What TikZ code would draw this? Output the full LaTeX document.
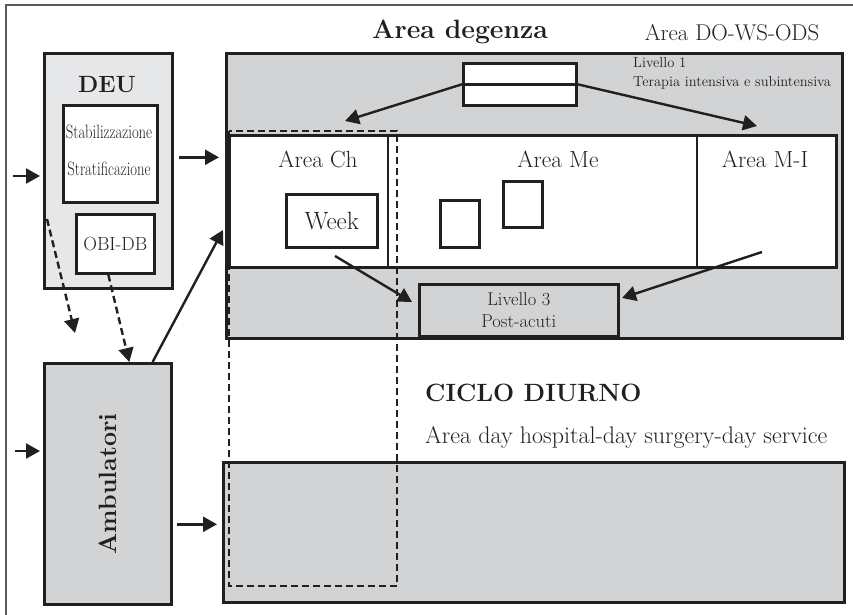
\documentclass[tikz,border=0pt]{standalone}
\usetikzlibrary{arrows.meta}
\definecolor{grigio}{HTML}{D1D3D4}
\definecolor{grigiochiaro}{HTML}{E6E7E8}
\definecolor{nero}{HTML}{231F20}
\tikzset{
	box/.style={draw=nero, line width=2.6pt, inner sep=0pt, anchor=north west, text=nero},
	testo/.style={text=nero, inner sep=0pt},
	freccia/.style={draw=nero, line width=2.4pt, -{Triangle[length=14pt, width=15pt]}},
	tratteggio/.style={draw=nero, line width=2.4pt, dash pattern=on 7pt off 4pt},
}
\newcommand{\fsize}[2]{\fontsize{#1}{#2}\selectfont}
\newcommand{\stretta}[1]{\scalebox{0.76}[1]{#1}}

\begin{document}
\begin{tikzpicture}[x=1pt, y=-1pt]
	\useasboundingbox (0,0) rectangle (853,615);
	\draw[gray!70!black, line width=1.2pt] (6,620) -- (6,5) -- (860,5);

	\node[box, fill=grigiochiaro, minimum width=128, minimum height=235] (deu) at (43,52) {};
	\node[box, fill=white, minimum width=94, minimum height=97] (stab) at (62,104) {};
	\node[box, fill=white, minimum width=78, minimum height=59, font=\fsize{19}{23}] (obi) at (75,213) {OBI-DB};
	\node[testo, font=\bfseries\fsize{23.5}{28}] (deutit) at (107,85) {DEU};
	\node[testo, font=\fsize{19.3}{23}] (stab1) at (109,132) {\stretta{Stabilizzazione}};
	\node[testo, font=\fsize{19.3}{23}] (stab2) at (109,169) {\stretta{Stratificazione}};

	\node[box, fill=grigio, minimum width=127, minimum height=241] (amb) at (43,362) {};
	\node[testo, rotate=90, font=\bfseries\fsize{25}{30}] (ambtit) at (amb.center) {Ambulatori};

	\node[box, fill=grigio, minimum width=616, minimum height=285] (deg) at (225,52) {};
	\node[box, fill=white, minimum width=607, minimum height=132] (band) at (228,134) {};
	\draw[nero, line width=2.6pt] (388,134) -- (388,266);
	\draw[nero, line width=2.6pt] (697,134) -- (697,266);
	\node[box, fill=white, minimum width=113, minimum height=42] (liv1) at (462,62) {};
	\node[box, fill=grigio, minimum width=199, minimum height=52] (liv3) at (418,283) {};
	\node[testo, align=center, font=\fsize{18.5}{22}] (liv3txt) at (liv3.center) {Livello 3\\Post-acuti};
	\node[box, fill=white, minimum width=91, minimum height=53, font=\fsize{25}{30}] (week) at (285,193) {Week};
	\node[box, minimum width=39, minimum height=47] (q1) at (439,199) {};
	\node[box, minimum width=39, minimum height=46] (q2) at (502,180) {};

	\node[box, fill=grigio, minimum width=621, minimum height=140] (giorno) at (222,461) {};

	\node[testo, font=\bfseries\fsize{26.5}{31}] (degtit) at (460,32) {Area degenza};
	\node[testo, font=\fsize{22.8}{27}] (dows) at (732,33) {Area DO-WS-ODS};
	\node[testo, anchor=west, align=left, font=\fsize{14.5}{19}] (liv1txt) at (633,73) {Livello 1\\Terapia intensiva e subintensiva};
	\node[testo, font=\fsize{23.4}{28}] (ach) at (318,159) {Area Ch};
	\node[testo, font=\fsize{23.4}{28}] (ame) at (558,159) {Area Me};
	\node[testo, font=\fsize{23.4}{28}] (ami) at (765,159) {Area M-I};
	\node[testo, anchor=west, font=\bfseries\fsize{25}{30}] (ciclo) at (425,393) {CICLO DIURNO};
	\node[testo, anchor=west, font=\fsize{24}{29}] (dayh) at (425,437) {Area day hospital-day surgery-day service};

	\coordinate (ing1) at (13,176);
	\coordinate (ing2) at (15,451);
	\coordinate (p1) at ([yshift=13.5pt]deu.east);
	\coordinate (p2) at ([yshift=-40.5pt]amb.east);
	\coordinate (ingch) at (223,230);
	\coordinate (sx) at (345,121);
	\coordinate (dx) at (757,126);
	\coordinate (c1) at (335,256);
	\coordinate (c2) at (412,302);
	\coordinate (c3) at (762,252);
	\coordinate (c4) at (622,298);
	\coordinate (t1) at (47,219);
	\coordinate (t2) at (75,333);

	\draw[freccia, shorten >=3pt] (ing1) -- (ing1 -| deu.west);
	\draw[freccia, shorten >=3pt] (ing2) -- (ing2 -| amb.west);
	\draw[freccia, shorten <=5pt, shorten >=6pt] (p1) -- (p1 -| deg.west);
	\draw[freccia, shorten <=4pt, shorten >=5pt] (p2) -- (p2 -| giorno.west);
	\draw[freccia] ([xshift=-20pt]amb.north east) -- (ingch);
	\draw[nero, line width=2.6pt] (liv1.west) -- (liv1.east);
	\draw[freccia] (liv1.west) -- (sx);
	\draw[freccia] (liv1.east) -- (dx);
	\draw[freccia] (c1) -- (c2);
	\draw[freccia] (c3) -- (c4);

	\draw[tratteggio, -{Triangle[length=14pt, width=15pt]}] (t1) -- (t2);
	\draw[tratteggio, -{Triangle[length=14pt, width=15pt]}] ([xshift=-7pt]obi.south) -- ([xshift=21.5pt]amb.north);
	\draw[tratteggio] (229,131) rectangle (397,586);
\end{tikzpicture}
\end{document}
